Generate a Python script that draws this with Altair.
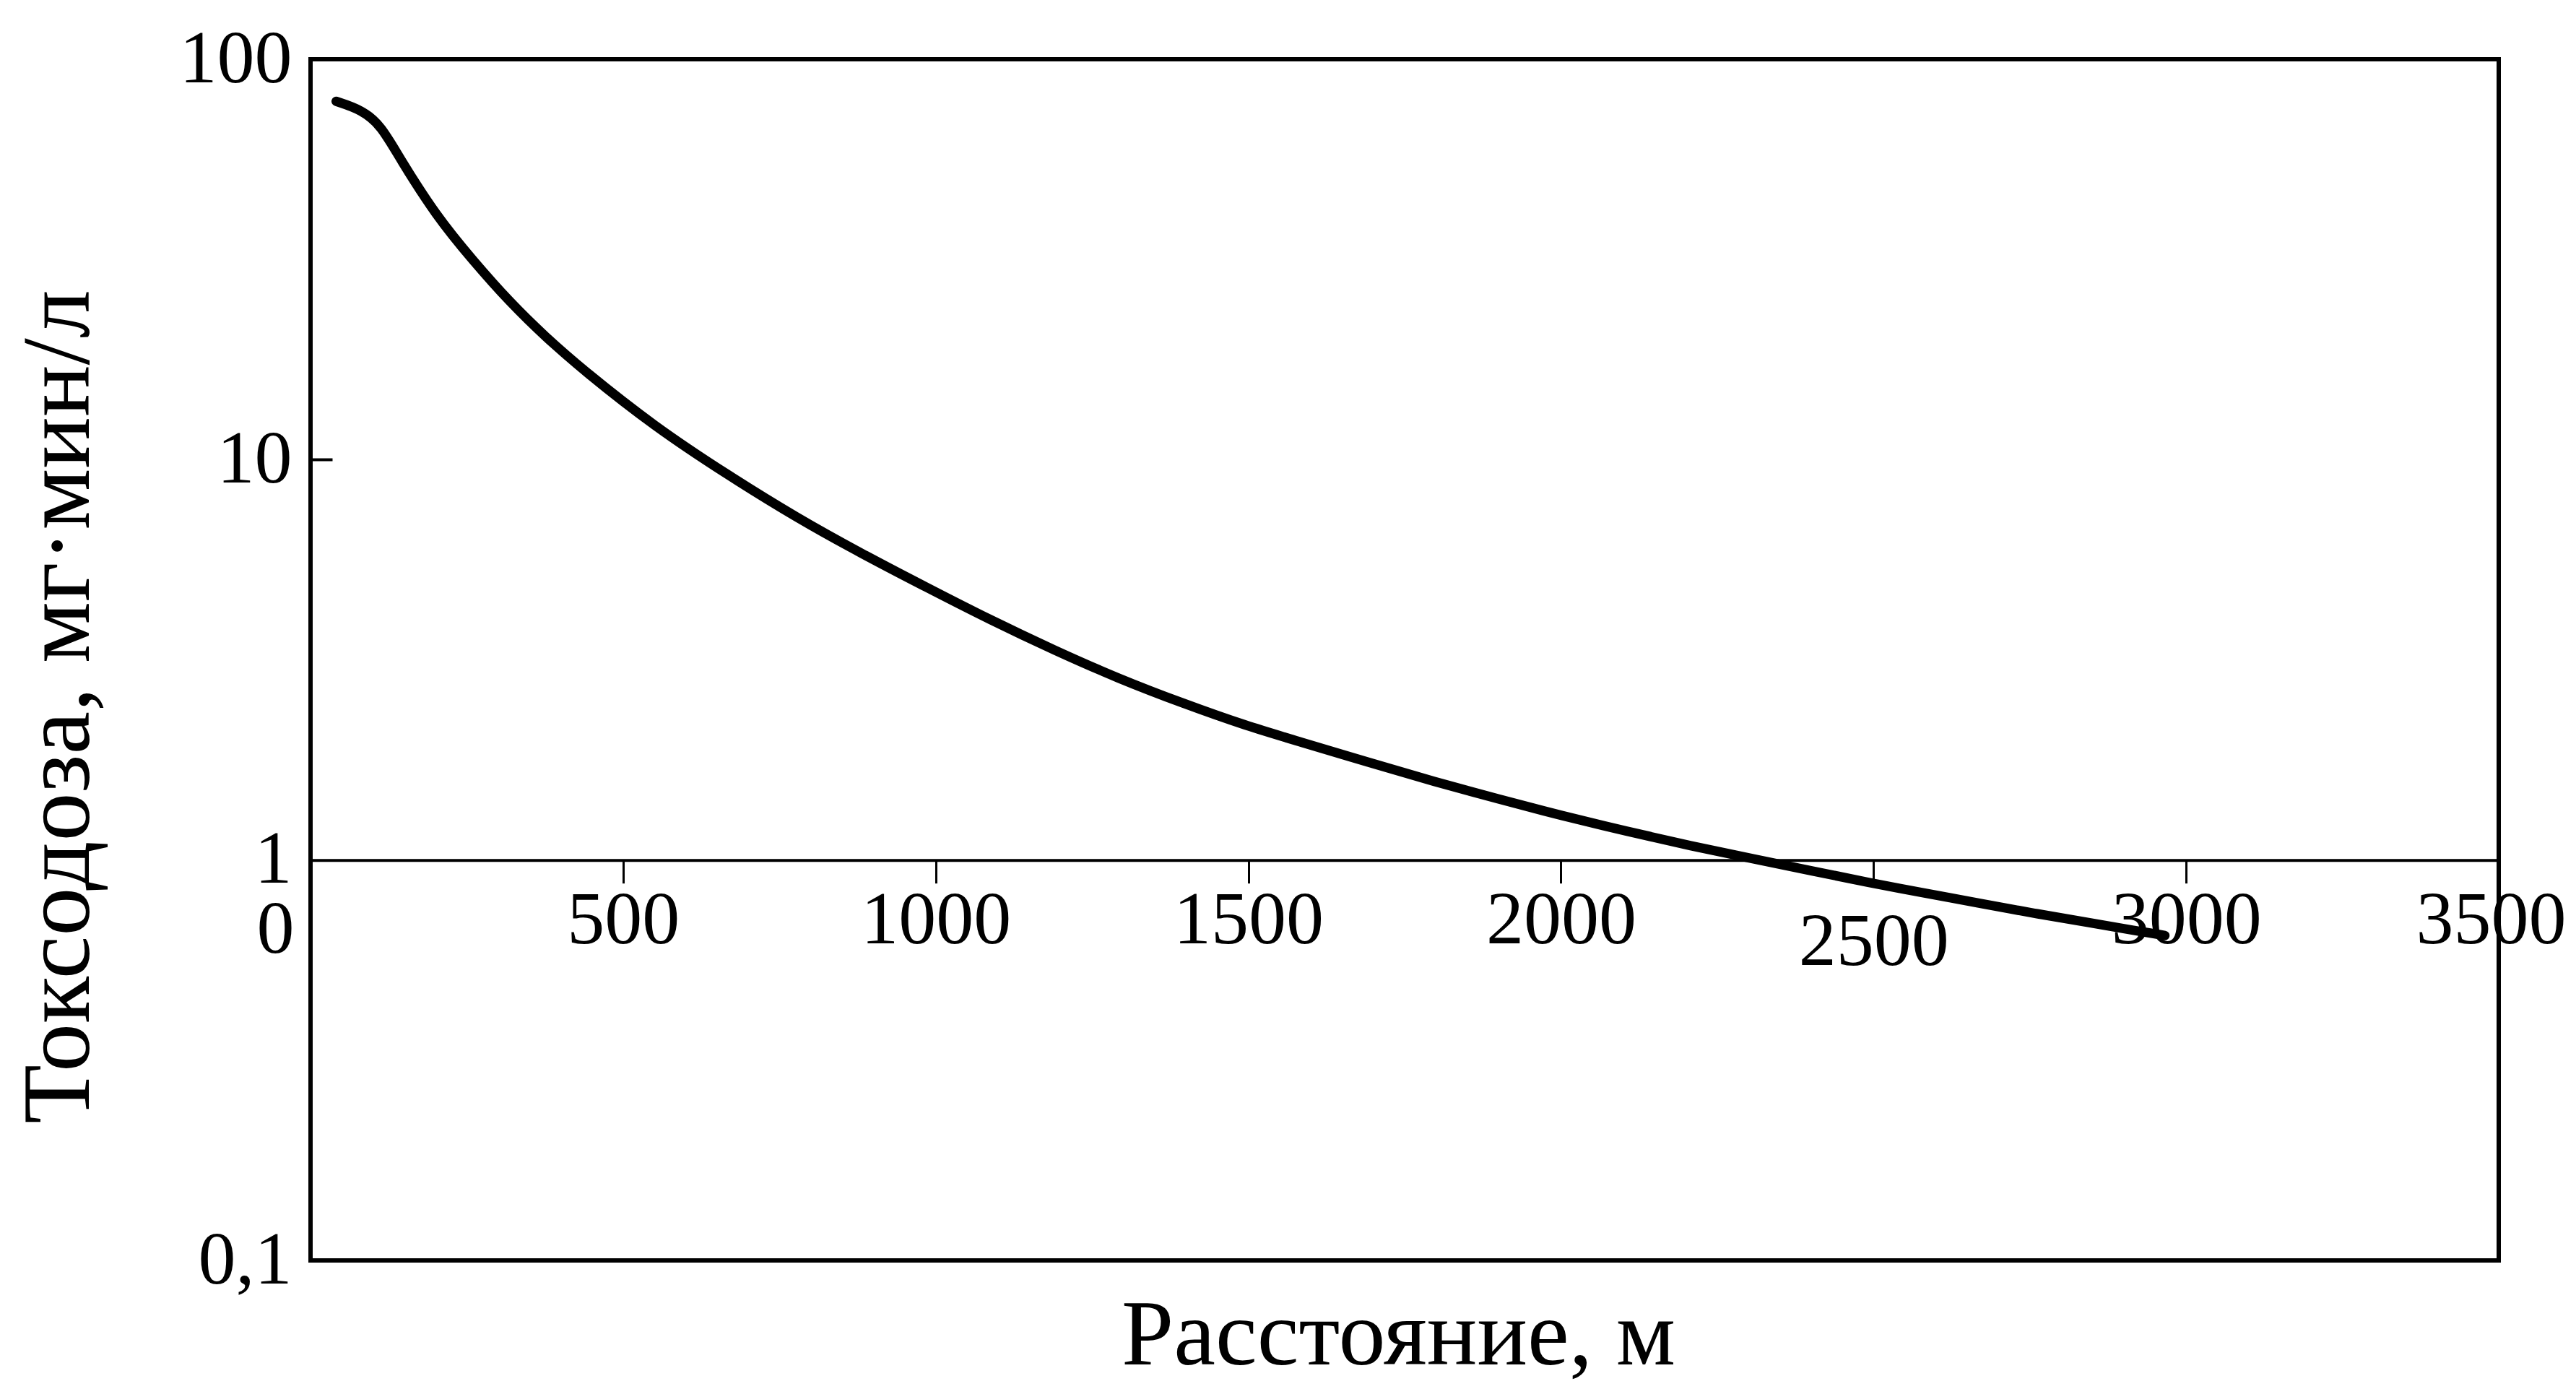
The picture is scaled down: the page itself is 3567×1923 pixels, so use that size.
import altair as alt
import pandas as pd

# Curve (distance in m, toxodose in mg·min/l)
DIST = [41, 82, 113, 142, 201, 260, 319, 378, 437, 550, 667, 779, 881, 985,
        1087, 1190, 1292, 1396, 1498, 1580, 1694, 1797, 1900, 2002, 2105,
        2208, 2310, 2403, 2492, 2580, 2669, 2757, 2846, 2920, 2966]
DOSE = [78.5, 74.8, 68.2, 56.8, 40.6, 31.4, 24.7, 20.1, 16.7, 12.1, 9.16,
        7.14, 5.83, 4.80, 3.98, 3.34, 2.84, 2.46, 2.16, 1.98, 1.75, 1.57,
        1.42, 1.29, 1.18, 1.084, 1.005, 0.938, 0.879, 0.828, 0.78, 0.736,
        0.697, 0.666, 0.648]

X_TICKS = [0, 500, 1000, 1500, 2000, 2500, 3000, 3500]
X_TICK_LABELS = ["0", "500", "1000", "1500", "2000", "2500", "3000", "3500"]
Y_TICKS = [0.1, 1, 10, 100]
Y_TICK_LABELS = ["0,1", "1", "10", "100"]

X_TITLE = "Расстояние, м"
Y_TITLE = "Токсодоза, мг·мин/л"

df = pd.DataFrame({"x": DIST, "y": DOSE})

FONT = "Liberation Serif"
W, H = 3030, 1663


def label_expr(values, labels):
    parts = []
    for v, l in zip(values, labels):
        parts.append(f"datum.value == {v} ? '{l}' : ")
    return "".join(parts) + "datum.label"


x_scale = alt.Scale(domain=[0, 3500], nice=False, zero=False)
y_scale = alt.Scale(type="log", domain=[0.1, 100], nice=False)

x_axis = alt.Axis(
    values=X_TICKS,
    labelExpr=label_expr(X_TICKS, X_TICK_LABELS),
    offset=-H / 3,
    domainColor="black",
    domainWidth=4,
    tickColor="black",
    tickWidth=3,
    tickSize=32,
    labelFont=FONT,
    labelFontSize=104,
    labelColor="black",
    labelBaseline="alphabetic",
    labelLimit=0,
    labelPadding={"condition": [{"test": "datum.value === 2500", "value": 113},
                                {"test": "datum.value === 0", "value": 96}],
                  "value": 83},
    labelOffset={"condition": [{"test": "datum.value === 0", "value": -49},
                               {"test": "datum.value === 3500", "value": -11}],
                 "value": 0},
    labelFlush=False,
    labelOverlap=False,
    grid=False,
    title=X_TITLE,
    titleFont=FONT,
    titleFontSize=130,
    titleFontWeight="normal",
    titleColor="black",
    titleAnchor="start",
    titleAlign="center",
    titleBaseline="alphabetic",
    titleX=1506,
    titleY=698,
)

y_axis = alt.Axis(
    values=Y_TICKS,
    labelExpr=label_expr(Y_TICKS, Y_TICK_LABELS),
    domain=False,
    ticks=False,
    grid=False,
    labelFont=FONT,
    labelFontSize=104,
    labelColor="black",
    labelPadding=26,
    labelAlign="right",
    labelBaseline="middle",
    labelLimit=0,
    labelFlush=False,
    labelOverlap=False,
    orient="left",
    title=Y_TITLE,
    titleFont=FONT,
    titleFontSize=134,
    titleFontWeight="normal",
    titleColor="black",
    titleAngle=270,
    titleAlign="center",
    titleBaseline="middle",
    titleX=-348,
    titleY=896,
)

tick_axis = alt.Axis(
    values=[10],
    orient="left",
    offset=-30,
    domain=False,
    labels=False,
    grid=False,
    ticks=True,
    tickSize=30,
    tickWidth=4,
    tickColor="black",
    title=None,
)

curve = alt.Chart(df).mark_line(
    color="black", strokeWidth=13, strokeCap="round", strokeJoin="round",
    interpolate="basis",
).encode(
    x=alt.X("x:Q", scale=x_scale, axis=x_axis),
    y=alt.Y("y:Q", scale=y_scale, axis=y_axis),
)

ticks_layer = alt.Chart(df).mark_line(opacity=0).encode(
    x=alt.X("x:Q", scale=x_scale, axis=None),
    y=alt.Y("y:Q", scale=y_scale, axis=tick_axis),
)

chart = alt.layer(curve, ticks_layer).resolve_axis(
    x="independent", y="independent"
).properties(
    width=W,
    height=H,
    autosize=alt.AutoSizeParams(type="none"),
    padding={"left": 430, "top": 82, "right": 107, "bottom": 178},
    background="white",
).configure_view(
    stroke="black",
    strokeWidth=6,
)

chart.save("out.html", embed_options={"renderer": "svg", "actions": False})
